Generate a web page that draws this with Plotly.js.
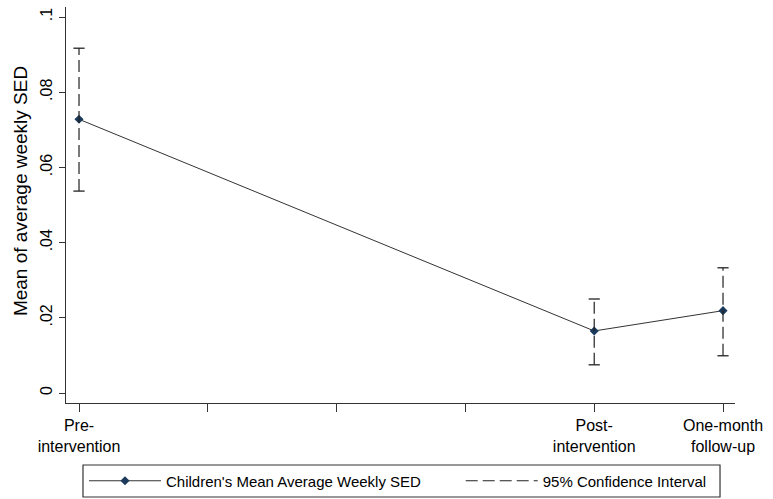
<!DOCTYPE html>
<html>
<head>
<meta charset="utf-8">
<script src="https://cdn.plot.ly/plotly-3.0.1.min.js"></script>
<style>html,body{margin:0;padding:0;background:#fff;}#chart{width:773px;height:499px;}</style>
</head>
<body>
<div id="chart"></div>
<script>
// Data
const timePos = [0, 4, 5];
const meanSED = [0.0728, 0.0165, 0.0219];
const ciLower = [0.0537, 0.0075, 0.0099];
const ciUpper = [0.0917, 0.0250, 0.0333];

const xTickVals = [0, 1, 2, 3, 4, 5];
const xTickText = ['Pre-<br>intervention', '', '', '', 'Post-<br>intervention', 'One-month<br>follow-up'];
const yTickVals = [0, 0.02, 0.04, 0.06, 0.08, 0.1];
const yTickText = ['0', '.02', '.04', '.06', '.08', '.1'];

const seriesName = "Children's Mean Average Weekly SED";
const ciName = '95% Confidence Interval';
const yTitle = 'Mean of average weekly SED';

// Build CI segments from the arrays
const ciX = [], ciY = [], capX = [], capY = [];
timePos.forEach((t, i) => {
  ciX.push(t, t, null);
  ciY.push(ciLower[i], ciUpper[i], null);
  capX.push(t, t);
  capY.push(ciLower[i], ciUpper[i]);
});

const FONT = 'Arial, "Liberation Sans", sans-serif';
const dark = '#222222';

const traces = [
  {
    x: timePos, y: meanSED, type: 'scatter', mode: 'lines+markers',
    name: seriesName, legend: 'legend',
    line: {color: '#333333', width: 1},
    marker: {symbol: 'diamond', size: 7, color: '#1b3a5c'}
  },
  {
    x: ciX, y: ciY, type: 'scatter', mode: 'lines',
    name: ciName, legend: 'legend2',
    line: {color: dark, width: 1.2, dash: '12px,5px'},
    hoverinfo: 'skip'
  },
  {
    x: capX, y: capY, type: 'scatter', mode: 'markers',
    showlegend: false,
    marker: {symbol: 'line-ew-open', size: 8, color: dark, line: {color: dark, width: 1.3}},
    hoverinfo: 'skip'
  }
];

const legendBase = {
  orientation: 'h',
  xanchor: 'left',
  y: -0.197, yanchor: 'middle',
  itemwidth: 72,
  bgcolor: 'rgba(0,0,0,0)', borderwidth: 0,
  font: {family: FONT, size: 15, color: '#000'}
};

const layout = {
  width: 773, height: 499,
  margin: {l: 66, r: 38, t: 7, b: 96, pad: 0, autoexpand: false},
  paper_bgcolor: '#ffffff', plot_bgcolor: '#ffffff',
  font: {family: FONT, color: '#000000', size: 16},
  showlegend: true,
  xaxis: {
    range: [-0.101, 5.093],
    tickmode: 'array', tickvals: xTickVals, ticktext: xTickText,
    ticks: 'outside', ticklen: 8, tickcolor: '#333', tickwidth: 1,
    showline: true, linecolor: '#333', linewidth: 1.2,
    showgrid: false, zeroline: false,
    tickfont: {family: FONT, size: 16, color: '#000'}
  },
  yaxis: {
    range: [-0.00266, 0.10266],
    tickmode: 'array', tickvals: yTickVals, ticktext: yTickText,
    tickangle: -90,
    ticks: 'outside', ticklen: 6, tickcolor: '#333', tickwidth: 1,
    showline: true, linecolor: '#333', linewidth: 1.2,
    showgrid: false, zeroline: false,
    tickfont: {family: FONT, size: 16, color: '#000'}
  },
  legend: Object.assign({}, legendBase, {x: 0.0269}),
  legend2: Object.assign({}, legendBase, {x: 0.590}),
  shapes: [
    {type: 'rect', xref: 'paper', yref: 'paper',
     x0: 0.0254, x1: 0.9776, y0: -0.2374, y1: -0.1566,
     line: {color: '#333', width: 1.2}, fillcolor: 'rgba(0,0,0,0)'}
  ],
  annotations: [
    {text: yTitle, xref: 'paper', yref: 'paper', x: -0.0688, y: 0.535,
     xanchor: 'center', yanchor: 'middle', textangle: -90, showarrow: false,
     font: {family: FONT, size: 19, color: '#000'}}
  ]
};

Plotly.newPlot('chart', traces, layout, {displayModeBar: false, staticPlot: true});
</script>
</body>
</html>
